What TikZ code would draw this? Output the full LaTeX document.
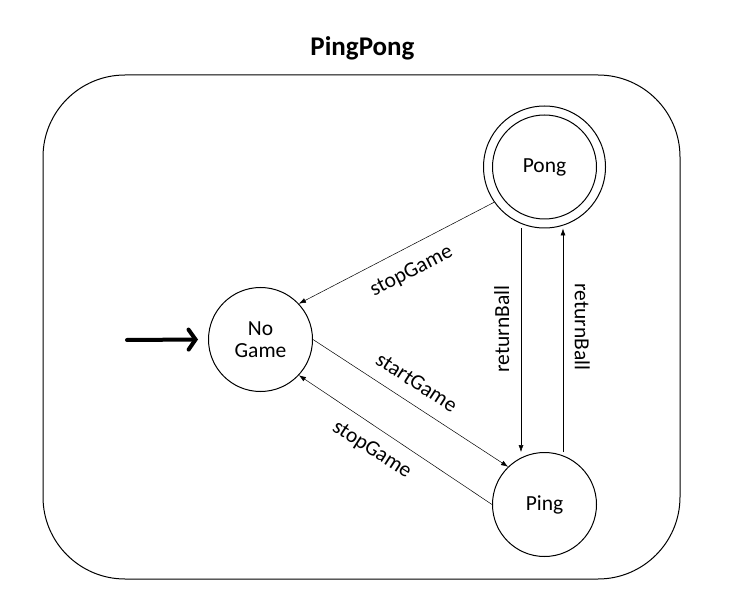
\documentclass[tikz,border=0pt]{standalone}
\usepackage{fontspec}
\setmainfont{Carlito}
\usetikzlibrary{arrows.meta,calc}
\tikzset{
  state/.style={circle,draw=black,line width=1pt,minimum size=104pt,inner sep=0pt,align=center,font=\fontsize{21.5}{22}\selectfont},
  outerstate/.style={circle,draw=black,line width=1pt,minimum size=122pt,inner sep=0pt},
  trans/.style={draw=black,line width=0.5pt,-{Latex[length=7pt,width=5pt]}},
  lbl/.style={font=\fontsize{21.5}{22}\selectfont,inner sep=0pt},
  initarrow/.style={line width=4pt,-{Straight Barb[length=7pt,width=20pt,line cap=round]},line cap=round}
}
\begin{document}
\begin{tikzpicture}[x=1pt,y=-1pt]
\useasboundingbox (0,0) rectangle (736,612);
\node[font=\bfseries\fontsize{27}{28}\selectfont] (title) at (362.5,48) {PingPong};
\node[draw=black,line width=1pt,rounded corners=82pt,minimum width=637pt,minimum height=504pt,inner sep=0pt] (frame) at (361.5,327) {};
\node[state] (nogame) at (260.5,339.5) {No\\Game};
\node[outerstate] (pong) at (544.5,167) {};
\node[state] (ponginner) at (pong.center) {Pong};
\node[state] (ping) at (544.5,504.5) {Ping};
\coordinate (init) at (127,340);
\draw[initarrow] (init) -- ([xshift=-10pt]nogame.west);
\draw[trans] (pong.215.4) -- (nogame.43.5);
\draw[trans] (nogame.0) -- (ping.134.6);
\draw[trans] (ping.180) -- (nogame.-43.5);
\draw[trans] ([xshift=-23.5pt]pong.south) -- ([xshift=-23.5pt]pong.south |- ping.north);
\draw[trans] ([xshift=18.5pt]ping.north) -- ([xshift=18.5pt]ping.north |- pong.south);
\node[lbl,rotate=27] (l1) at (411.7,271.7) {stopGame};
\node[lbl,rotate=-33] (l2) at (416.7,382.3) {startGame};
\node[lbl,rotate=-33] (l3) at (371.7,450) {stopGame};
\node[lbl,rotate=90] (l4) at (501.7,329) {returnBall};
\node[lbl,rotate=-90] (l5) at (582.3,326.7) {returnBall};
\end{tikzpicture}
\end{document}
